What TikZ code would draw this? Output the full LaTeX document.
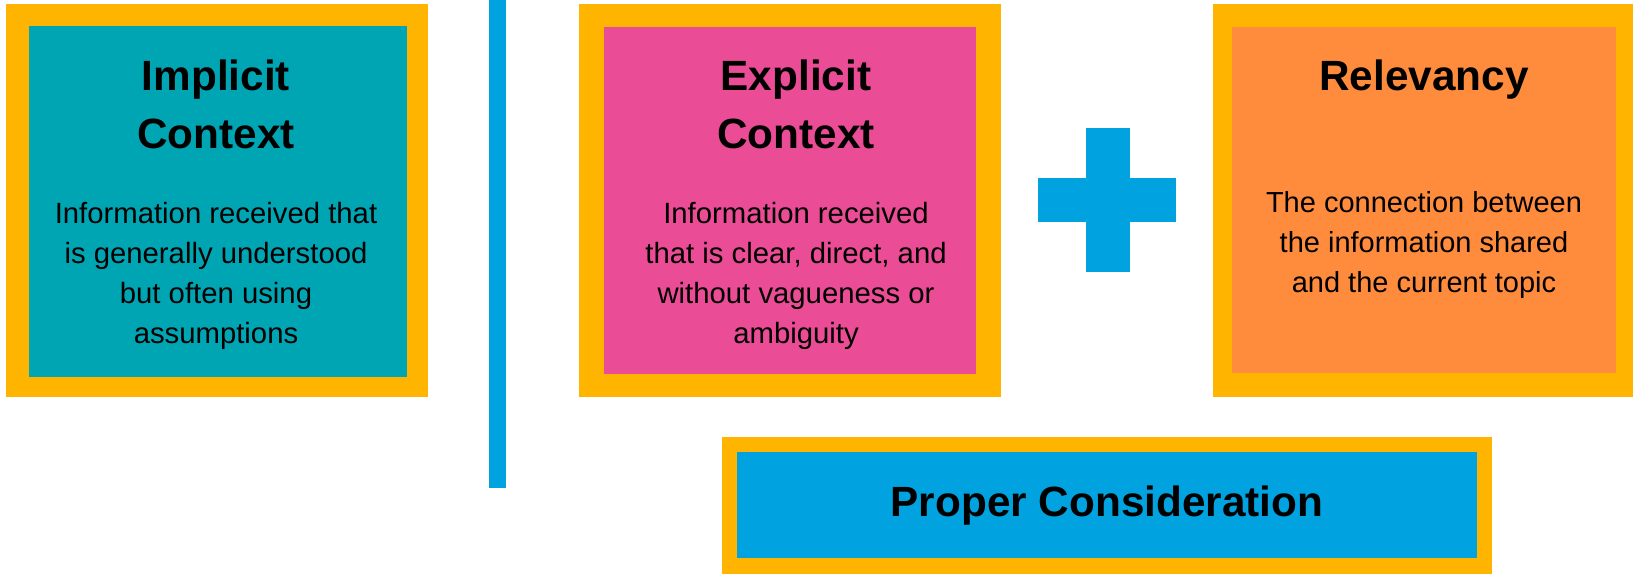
\documentclass[tikz,border=0pt]{standalone}
\usepackage{fontspec}
\setmainfont{Liberation Sans}
\definecolor{gold}{HTML}{FFB500}
\definecolor{tealc}{HTML}{00A5B4}
\definecolor{pinkc}{HTML}{EA4C95}
\definecolor{orangec}{HTML}{FF8B3D}
\definecolor{bluec}{HTML}{00A3E0}
\tikzset{
  box/.style={inner sep=0pt, outer sep=0pt, anchor=north west},
  ttl/.style={inner sep=0pt, anchor=base, font=\bfseries\fontsize{42.3}{48}\selectfont},
  bdy/.style={inner sep=0pt, anchor=base, font=\fontsize{29.3}{34}\selectfont},
  bdyr/.style={inner sep=0pt, anchor=base, font=\fontsize{29}{34}\selectfont},
}
\begin{document}
\begin{tikzpicture}[x=1pt,y=-1pt]
\useasboundingbox (0,0) rectangle (1633,574);
\fill[white] (0,0) rectangle (1633,574);
% box 1
\node[box, fill=gold, minimum width=422pt, minimum height=393pt] (o1) at (6,4) {};
\node[box, fill=tealc, minimum width=378pt, minimum height=351pt] (i1) at (29,26) {};
\node[ttl] (t1a) at (216,90) {Implicit};
\node[ttl] (t1b) at (216,148) {Context};
\node[bdy] (b1a) at (216,223) {Information received that};
\node[bdy] (b1b) at (216,263) {is generally understood};
\node[bdy] (b1c) at (216,303) {but often using};
\node[bdy] (b1d) at (216,343) {assumptions};
% vertical bar
\node[box, fill=bluec, minimum width=17pt, minimum height=488pt] (vbar) at (489,0) {};
% box 2
\node[box, fill=gold, minimum width=422pt, minimum height=393pt] (o2) at (579,4) {};
\node[box, fill=pinkc, minimum width=372pt, minimum height=347pt] (i2) at (604,27) {};
\node[ttl] (t2a) at (796,90) {Explicit};
\node[ttl] (t2b) at (796,148) {Context};
\node[bdy] (b2a) at (796,223) {Information received};
\node[bdy] (b2b) at (796,263) {that is clear, direct, and};
\node[bdy] (b2c) at (796,303) {without vagueness or};
\node[bdy] (b2d) at (796,343) {ambiguity};
% plus
\node[box, fill=bluec, minimum width=138pt, minimum height=44pt] (ph) at (1038,178) {};
\node[box, fill=bluec, minimum width=44pt, minimum height=144pt] (pv) at (1086,128) {};
% box 3
\node[box, fill=gold, minimum width=420pt, minimum height=393pt] (o3) at (1213,4) {};
\node[box, fill=orangec, minimum width=384pt, minimum height=346pt] (i3) at (1232,27) {};
\node[ttl] (t3a) at (1424,90) {Relevancy};
\node[bdyr] (b3a) at (1424,212) {The connection between};
\node[bdyr] (b3b) at (1424,252) {the information shared};
\node[bdyr] (b3c) at (1424,292) {and the current topic};
% box 4
\node[box, fill=gold, minimum width=770pt, minimum height=137pt] (o4) at (722,437) {};
\node[box, fill=bluec, minimum width=740pt, minimum height=106pt] (i4) at (737,452) {};
\node[ttl] (t4) at (1107,516) {Proper Consideration};
\end{tikzpicture}
\end{document}
